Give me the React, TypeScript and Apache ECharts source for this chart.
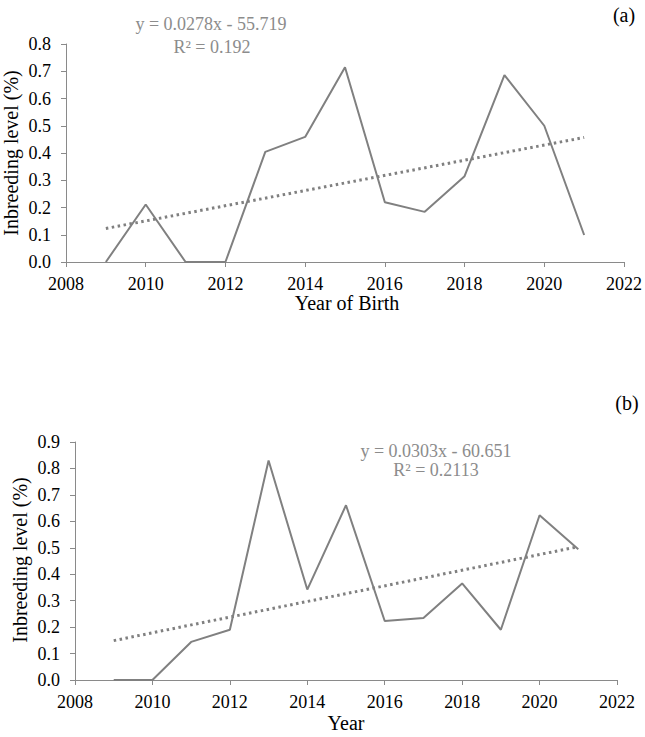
import React, { useEffect, useRef } from "react";
import * as echarts from "echarts";

const yearsA = [2009, 2010, 2011, 2012, 2013, 2014, 2015, 2016, 2017, 2018, 2019, 2020, 2021];
const valuesA = [0, 0.211, 0, 0, 0.404, 0.459, 0.715, 0.219, 0.184, 0.315, 0.686, 0.5, 0.099];
const trendYearsA = [2009, 2021];
const trendValuesA = [0.123, 0.457];

const yearsB = [2009, 2010, 2011, 2012, 2013, 2014, 2015, 2016, 2017, 2018, 2019, 2020, 2021];
const valuesB = [0, 0, 0.144, 0.19, 0.83, 0.342, 0.661, 0.223, 0.234, 0.365, 0.19, 0.623, 0.494];
const trendYearsB = [2009, 2021];
const trendValuesB = [0.149, 0.504];

const eqA = ["y = 0.0278x - 55.719", "R² = 0.192"];
const eqB = ["y = 0.0303x - 60.651", "R² = 0.2113"];

const FONT = "Liberation Serif";
const AXIS_GRAY = "#8a8a8a";
const LINE_GRAY = "#808080";
const EQ_GRAY = "#8c8c8c";

export default function App() {
  const ref = useRef<HTMLDivElement>(null);
  useEffect(() => {
    if (!ref.current) return;
    const chart = echarts.init(ref.current, undefined, { renderer: "svg" });
    const richLabel = { t: { fontFamily: FONT, fontSize: 18, color: "#000" } };
    const xAxisBase = (gridIndex: number) => ({
      type: "value",
      gridIndex,
      min: 2008,
      max: 2022,
      interval: 2,
      axisLine: { show: true, lineStyle: { color: AXIS_GRAY, width: 1 } },
      axisTick: { show: true, length: 5, lineStyle: { color: AXIS_GRAY } },
      axisLabel: {
        color: "#000",
        fontFamily: FONT,
        fontSize: 18,
        margin: 13,
        formatter: (v: number) => "{t|" + String(v) + "}",
        rich: richLabel,
      },
      splitLine: { show: false },
    });
    const yAxisBase = (gridIndex: number, max: number) => ({
      type: "value",
      gridIndex,
      min: 0,
      max,
      interval: 0.1,
      axisLine: { show: true, lineStyle: { color: AXIS_GRAY, width: 1 } },
      axisTick: { show: true, length: 5, lineStyle: { color: AXIS_GRAY } },
      axisLabel: {
        color: "#000",
        fontFamily: FONT,
        fontSize: 18,
        margin: 15,
        formatter: (v: number) => "{t|" + v.toFixed(1) + "}",
        rich: richLabel,
      },
      splitLine: { show: false },
    });
    const textStyle = (text: string, size: number, color: string) => ({
      text,
      fontFamily: FONT,
      fontSize: size,
      fill: color,
      align: "center",
      verticalAlign: "middle",
    });
    chart.setOption({
      animation: false,
      backgroundColor: "#fff",
      textStyle: { fontFamily: FONT },
      grid: [
        { left: 66, top: 44, width: 560, height: 218 },
        { left: 75, top: 442, width: 542, height: 238 },
      ],
      xAxis: [xAxisBase(0), xAxisBase(1)],
      yAxis: [yAxisBase(0, 0.8), yAxisBase(1, 0.9)],
      series: [
        {
          type: "line",
          xAxisIndex: 0,
          yAxisIndex: 0,
          data: yearsA.map((y, i) => [y, valuesA[i]]),
          symbol: "none",
          lineStyle: { color: LINE_GRAY, width: 2 },
        },
        {
          type: "line",
          xAxisIndex: 0,
          yAxisIndex: 0,
          data: trendYearsA.map((y, i) => [y, trendValuesA[i]]),
          symbol: "none",
          lineStyle: { color: LINE_GRAY, width: 3, type: [2.5, 3.5] },
        },
        {
          type: "line",
          xAxisIndex: 1,
          yAxisIndex: 1,
          data: yearsB.map((y, i) => [y, valuesB[i]]),
          symbol: "none",
          lineStyle: { color: LINE_GRAY, width: 2 },
        },
        {
          type: "line",
          xAxisIndex: 1,
          yAxisIndex: 1,
          data: trendYearsB.map((y, i) => [y, trendValuesB[i]]),
          symbol: "none",
          lineStyle: { color: LINE_GRAY, width: 3, type: [2.5, 3.5] },
        },
      ],
      graphic: [
        { type: "text", x: 11, y: 153, rotation: Math.PI / 2, style: textStyle("Inbreeding level (%)", 20, "#000") },
        { type: "text", x: 20, y: 560, rotation: Math.PI / 2, style: textStyle("Inbreeding level (%)", 20, "#000") },
        { type: "text", x: 347, y: 303, style: textStyle("Year of Birth", 20, "#000") },
        { type: "text", x: 346, y: 723, style: textStyle("Year", 20, "#000") },
        { type: "text", x: 211, y: 24, style: textStyle(eqA[0], 18, EQ_GRAY) },
        { type: "text", x: 212, y: 47, style: textStyle(eqA[1], 18, EQ_GRAY) },
        { type: "text", x: 436, y: 451, style: textStyle(eqB[0], 18, EQ_GRAY) },
        { type: "text", x: 436, y: 470, style: textStyle(eqB[1], 18, EQ_GRAY) },
        { type: "text", x: 624, y: 15, style: textStyle("(a)", 20, "#000") },
        { type: "text", x: 627, y: 403, style: textStyle("(b)", 20, "#000") },
      ],
    });
    return () => chart.dispose();
  }, []);
  return (
    <div
      ref={ref}
      style={{ position: "fixed", left: 0, top: 0, width: 645, height: 737 }}
    />
  );
}
